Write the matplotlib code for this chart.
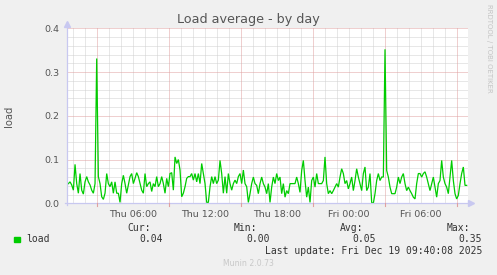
import numpy as np
import matplotlib
matplotlib.use("Agg")
import matplotlib.pyplot as plt
from matplotlib.lines import Line2D

# ---------------- data ----------------
title = "Load average - by day"
ylabel = "load"
series_name = "load"
# sample times in hours from Thu 00:00 (first sample and spacing)
t_start = 0.4725
t_step = 0.138889
load = [
    0.042, 0.045, 0.049, 0.042, 0.030, 0.089, 0.045, 0.023, 0.068, 0.030,
    0.021, 0.049, 0.061, 0.049, 0.042, 0.030, 0.023, 0.045, 0.331, 0.061,
    0.045, 0.015, 0.009, 0.023, 0.068, 0.045, 0.038, 0.049, 0.023, 0.049,
    0.023, 0.023, 0.002, 0.045, 0.064, 0.045, 0.023, 0.042, 0.061, 0.068,
    0.045, 0.057, 0.070, 0.061, 0.045, 0.030, 0.023, 0.068, 0.038, 0.045,
    0.049, 0.027, 0.045, 0.038, 0.061, 0.038, 0.045, 0.061, 0.045, 0.023,
    0.057, 0.038, 0.068, 0.070, 0.030, 0.106, 0.091, 0.100, 0.076, 0.015,
    0.023, 0.038, 0.057, 0.061, 0.061, 0.068, 0.053, 0.068, 0.049, 0.068,
    0.045, 0.091, 0.068, 0.045, 0.002, 0.002, 0.038, 0.061, 0.045, 0.061,
    0.045, 0.053, 0.098, 0.068, 0.023, 0.061, 0.023, 0.068, 0.045, 0.030,
    0.045, 0.053, 0.045, 0.061, 0.068, 0.045, 0.076, 0.045, 0.038, 0.002,
    0.022, 0.045, 0.060, 0.045, 0.041, 0.022, 0.045, 0.060, 0.045, 0.037,
    0.022, 0.045, 0.002, 0.037, 0.060, 0.045, 0.068, 0.052, 0.060, 0.022,
    0.045, 0.014, 0.029, 0.022, 0.045, 0.045, 0.045, 0.045, 0.060, 0.045,
    0.025, 0.075, 0.098, 0.052, 0.014, 0.037, 0.002, 0.052, 0.060, 0.037,
    0.068, 0.045, 0.045, 0.045, 0.052, 0.106, 0.045, 0.022, 0.029, 0.022,
    0.029, 0.037, 0.045, 0.037, 0.060, 0.079, 0.068, 0.045, 0.052, 0.033,
    0.045, 0.060, 0.029, 0.052, 0.079, 0.060, 0.045, 0.029, 0.068, 0.083,
    0.029, 0.037, 0.068, 0.002, 0.000, 0.022, 0.052, 0.068, 0.052, 0.060,
    0.060, 0.352, 0.075, 0.060, 0.037, 0.022, 0.022, 0.022, 0.037, 0.060,
    0.045, 0.060, 0.068, 0.045, 0.029, 0.037, 0.029, 0.022, 0.014, 0.010,
    0.045, 0.068, 0.068, 0.060, 0.068, 0.072, 0.060, 0.045, 0.029, 0.045,
    0.060, 0.037, 0.014, 0.045, 0.052, 0.098, 0.060, 0.045, 0.037, 0.022,
    0.060, 0.098, 0.052, 0.022, 0.010, 0.018, 0.045, 0.068, 0.083, 0.041,
    0.041,
]
x_tick_hours = [6, 12, 18, 24, 30]
x_tick_labels = ["Thu 06:00", "Thu 12:00", "Thu 18:00", "Fri 00:00", "Fri 06:00"]
y_ticks = [0.0, 0.1, 0.2, 0.3, 0.4]
y_tick_labels = ["0.0", "0.1", "0.2", "0.3", "0.4"]
major_x_grid = [3, 9, 15, 21, 27, 33]
stat_names = ["Cur:", "Min:", "Avg:", "Max:"]
stat_values = ["0.04", "0.00", "0.05", "0.35"]
last_update = "Last update: Fri Dec 19 09:40:08 2025"
footer = "Munin 2.0.73"
side_text = "RRDTOOL / TOBI OETIKER"

# ---------------- figure ----------------
W, H = 497, 275
fig = plt.figure(figsize=(W / 100, H / 100), dpi=100, facecolor="#F0F0F0")

def fx(x):
    return x / W

def fy(y):
    return 1 - y / H

left, right, top, bottom = 66.7, 468.0, 28.3, 203.3
ax = fig.add_axes([fx(left), fy(bottom), fx(right) - fx(left), fy(top) - fy(bottom)])
ax.set_facecolor("white")
xmin, xmax = 0.4725, 33.917
ax.set_xlim(xmin, xmax)
ax.set_ylim(0, 0.4)

for s in ax.spines.values():
    s.set_visible(False)

dot = (0, (1, 1))
# minor grid
for h in np.arange(1, 34):
    if h not in major_x_grid:
        ax.axvline(h, color="#D0D0D0", lw=0.72, ls=dot, zorder=1)
for v in np.arange(0.02, 0.41, 0.02):
    if abs(v * 10 - round(v * 10)) > 1e-6:
        ax.axhline(v, color="#D0D0D0", lw=0.72, ls=dot, zorder=1)
# major grid
for h in major_x_grid:
    ax.axvline(h, color="#E0A0A0", lw=0.72, ls=dot, zorder=1.5)
for v in y_ticks[1:]:
    ax.axhline(v, color="#E0A0A0", lw=0.72, ls=dot, zorder=1.5)

t = t_start + t_step * np.arange(len(load))
ax.plot(t, load, color="#00CC00", lw=0.9, zorder=3, solid_joinstyle="miter")

ax.set_xticks(x_tick_hours)
ax.set_xticklabels(x_tick_labels)
ax.set_yticks(y_ticks)
ax.set_yticklabels(y_tick_labels)
ax.tick_params(axis="both", length=0, labelsize=6.8, labelcolor="#555555")
ax.tick_params(axis="x", pad=5)
ax.tick_params(axis="y", pad=5)

# axes lines with arrows
axis_col = "#C8C8F0"
fig.add_artist(Line2D([fx(left), fx(left)], [fy(bottom + 2), fy(23)], color=axis_col, lw=0.9))
fig.add_artist(Line2D([fx(left - 2), fx(471)], [fy(bottom), fy(bottom)], color=axis_col, lw=0.9))
fig.add_artist(Line2D([fx(left)], [fy(24)], marker="^", markersize=4, color=axis_col, lw=0))
fig.add_artist(Line2D([fx(471)], [fy(bottom)], marker=">", markersize=4, color=axis_col, lw=0))
# tick marks on the x axis
for h in major_x_grid:
    xp = left + (h - xmin) / (xmax - xmin) * (right - left)
    fig.add_artist(Line2D([fx(xp), fx(xp)], [fy(bottom), fy(bottom + 3)], color="#E0A0A0", lw=0.8))

fig.text(fx(248), fy(20), title, ha="center", va="center", fontsize=9.2, color="#555555")
fig.text(fx(9), fy(116), ylabel, rotation=90, ha="center", va="center", fontsize=7.2, color="#555555")
fig.text(fx(489), fy(4), side_text, rotation=270, ha="center", va="top", fontsize=5.0, color="#C4C4C4")

mono = "DejaVu Sans Mono"
fs = 7.05
fig.add_artist(plt.Rectangle((fx(14), fy(242)), fx(6), fy(237) - fy(242), color="#00CC00", transform=fig.transFigure))
fig.text(fx(26.5), fy(239.5), series_name, ha="left", va="center", fontsize=fs, family=mono, color="#333333")
name_right = [150.5, 257, 363.5, 470]
val_right = [163, 269.5, 375.5, 482]
for n, v, nr, vr in zip(stat_names, stat_values, name_right, val_right):
    fig.text(fx(nr), fy(228), n, ha="right", va="center", fontsize=fs, family=mono, color="#333333")
    fig.text(fx(vr), fy(239.5), v, ha="right", va="center", fontsize=fs, family=mono, color="#333333")
fig.text(fx(482), fy(251.5), last_update, ha="right", va="center", fontsize=fs, family=mono, color="#333333")
fig.text(fx(248), fy(264), footer, ha="center", va="center", fontsize=5.6, color="#C8C8C8")

fig.savefig("out.png", dpi=100, facecolor=fig.get_facecolor())
